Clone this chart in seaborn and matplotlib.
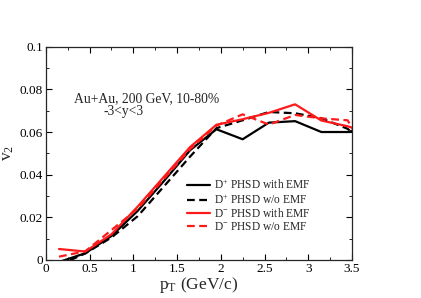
import numpy as np
import pandas as pd
import matplotlib
matplotlib.use("Agg")
import matplotlib.pyplot as plt
import seaborn as sns
from matplotlib.ticker import MultipleLocator, FuncFormatter

pt = [0.15, 0.45, 0.75, 1.05, 1.35, 1.65, 1.95, 2.25, 2.55, 2.85, 3.15, 3.45, 3.75]
dplus_emf = [-0.001, 0.0031, 0.0112, 0.023, 0.037, 0.0515, 0.0613, 0.0566, 0.0644, 0.0651, 0.0600, 0.0600, 0.063]
dplus_noemf = [-0.0025, 0.0030, 0.0105, 0.0205, 0.0345, 0.0485, 0.0618, 0.0655, 0.0694, 0.0688, 0.0665, 0.0615, 0.052]
dminus_emf = [0.0051, 0.0039, 0.0120, 0.0250, 0.0390, 0.0530, 0.0634, 0.0660, 0.0690, 0.0730, 0.0654, 0.0627, 0.059]
dminus_noemf = [0.0015, 0.0040, 0.0140, 0.0240, 0.0380, 0.0520, 0.0630, 0.0683, 0.0635, 0.0680, 0.0664, 0.0655, 0.045]

labels = [r"D$^{+}$ PHSD with EMF", r"D$^{+}$ PHSD w/o EMF",
          r"D$^{-}$ PHSD with EMF", r"D$^{-}$ PHSD w/o EMF"]
series = [dplus_emf, dplus_noemf, dminus_emf, dminus_noemf]

df = pd.concat([pd.DataFrame({"pt": pt, "v2": s, "curve": l}) for s, l in zip(series, labels)])

sns.set_style("ticks")
plt.rcParams["font.family"] = ["Liberation Serif", "DejaVu Serif"]
plt.rcParams["mathtext.fontset"] = "custom"
plt.rcParams["mathtext.rm"] = "Liberation Serif"
plt.rcParams["mathtext.it"] = "Liberation Serif:italic"

fig = plt.figure(figsize=(4.21, 2.98), dpi=100)
ax = fig.add_axes([0.109, 0.128, 0.727, 0.715])

palette = {labels[0]: "black", labels[1]: "black", labels[2]: "#ff1a1a", labels[3]: "#ff1a1a"}
dashes = {labels[0]: "", labels[1]: (3.5, 2), labels[2]: "", labels[3]: (3.5, 2)}
sns.lineplot(data=df, x="pt", y="v2", hue="curve", style="curve", palette=palette,
             dashes=dashes, hue_order=labels, style_order=labels, linewidth=1.6, ax=ax)

ax.set_xlim(0, 3.5)
ax.set_ylim(0, 0.1)
ax.xaxis.set_major_locator(MultipleLocator(0.5))
ax.xaxis.set_minor_locator(MultipleLocator(0.25))
ax.yaxis.set_major_locator(MultipleLocator(0.02))
ax.yaxis.set_minor_locator(MultipleLocator(0.01))
ax.xaxis.set_major_formatter(FuncFormatter(lambda v, p: f"{v:g}"))
ax.yaxis.set_major_formatter(FuncFormatter(lambda v, p: f"{v:g}"))
ax.tick_params(which="both", direction="in", top=True, right=True, labelsize=9.5, colors="black", pad=2)
ax.tick_params(which="major", length=4)
ax.tick_params(which="minor", length=2)
for sp in ax.spines.values():
    sp.set_linewidth(0.9)

ax.set_xlabel(r"p$_{\mathrm{T}}$ (GeV/c)", fontsize=12.5, labelpad=0)
ax.set_ylabel(r"v$_{2}$", fontsize=12.5)
ax.yaxis.set_label_coords(-0.098, 0.5)

ax.text(0.32, 0.0758, "Au+Au, 200 GeV, 10-80%", fontsize=9.8, va="center", ha="left")
ax.text(0.66, 0.0697, "-3<y<3", fontsize=9.8, va="center", ha="left")

leg = ax.legend(loc="upper left", bbox_to_anchor=(0.462, 0.382), frameon=False, fontsize=8.3,
                handlelength=2.0, handletextpad=0.35, labelspacing=0.05, borderaxespad=0,
                borderpad=0)

fig.savefig("out.png", dpi=100)
